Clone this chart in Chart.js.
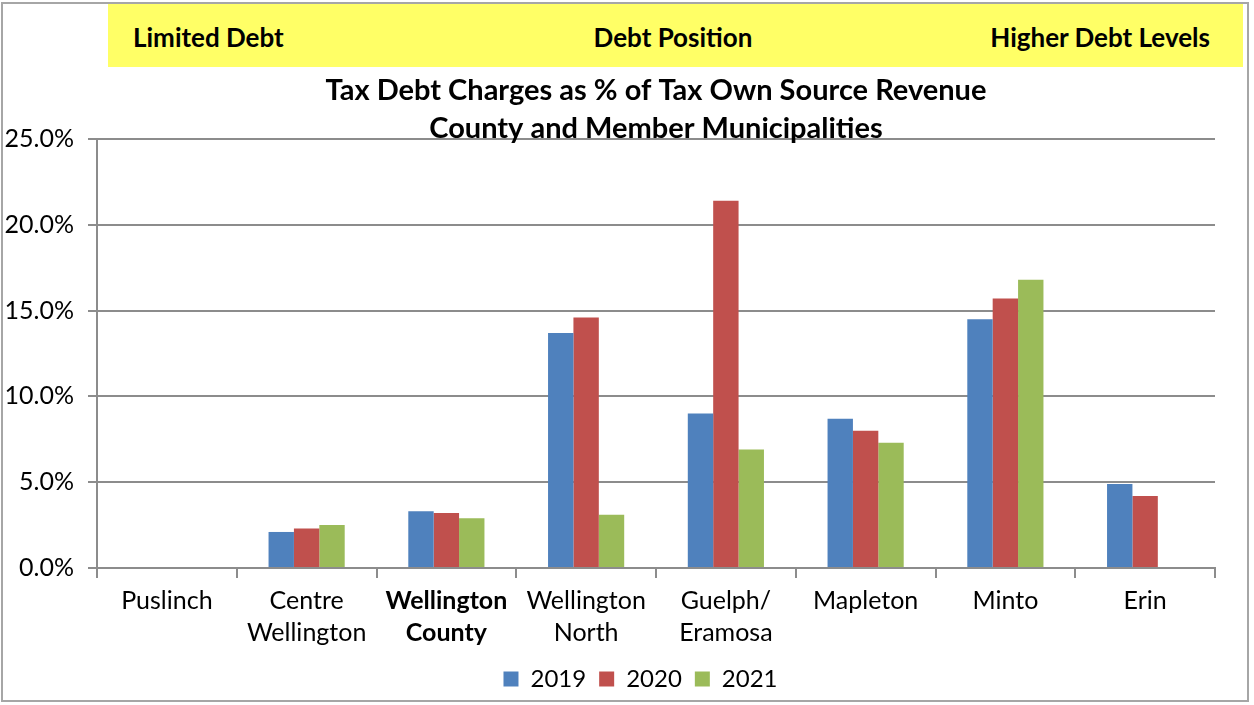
<!DOCTYPE html>
<html>
<head>
<meta charset="utf-8">
<script src="https://cdn.jsdelivr.net/npm/chart.js@4/dist/chart.umd.min.js"></script>
<style>
  html, body { margin: 0; padding: 0; background: #ffffff; }
  #wrap { position: relative; width: 1254px; height: 705px; overflow: hidden; }
  #frame { position: absolute; left: 1px; top: 2px; width: 1248px; height: 700px; border: 2px solid #a6a6a6; box-sizing: border-box; }
  #band { position: absolute; left: 108px; top: 4px; width: 1135px; height: 63px; background: #ffff66; font-family: Lato, "Open Sans", sans-serif; font-weight: bold; font-size: 26px; color: #000; }
  .bt { position: absolute; top: 2px; line-height: 63px; white-space: nowrap; }
  canvas { position: absolute; left: 0; top: 0; }
</style>
</head>
<body>
<div id="wrap">
  <div id="frame"></div>
  <div id="band">
    <div class="bt" style="left:25px">Limited Debt</div>
    <div class="bt" style="left:565px; transform:translateX(-50%);">Debt Position</div>
    <div class="bt" style="right:33px">Higher Debt Levels</div>
  </div>
  <canvas id="c" width="1254" height="705"></canvas>
</div>
<script>
const categories = [['Puslinch'], ['Centre', 'Wellington'], ['Wellington', 'County'], ['Wellington', 'North'], ['Guelph/', 'Eramosa'], ['Mapleton'], ['Minto'], ['Erin']];
const seriesNames = ['2019', '2020', '2021'];
const values2019 = [0, 2.1, 3.3, 13.7, 9.0, 8.7, 14.5, 4.9];
const values2020 = [0, 2.3, 3.2, 14.6, 21.4, 8.0, 15.7, 4.2];
const values2021 = [0, 2.5, 2.9, 3.1, 6.9, 7.3, 16.8, 0];
const titleLines = ['Tax Debt Charges as % of Tax Own Source Revenue', 'County and Member Municipalities'];
const boldCategoryIndex = 2;

const FONT = 'Lato, "Open Sans", sans-serif';
const GRID = '#8c8c8c';

const titlePlugin = {
  id: 'overlayTitle',
  afterDatasetsDraw(chart) {
    const ctx = chart.ctx;
    const a = chart.chartArea;
    const cx = (a.left + a.right) / 2;
    ctx.save();
    ctx.font = 'bold 29px ' + FONT;
    ctx.fillStyle = '#000';
    ctx.textAlign = 'center';
    ctx.textBaseline = 'middle';
    ctx.fillText(titleLines[0], cx, a.top - 48);
    ctx.fillText(titleLines[1], cx, a.top - 10);
    ctx.restore();
  }
};

// Centre the legend on the whole canvas instead of the padded layout area
const legendShift = {
  id: 'legendShift',
  afterLayout(chart) {
    const lg = chart.legend;
    if (lg) { lg.left += 33; lg.right += 33; }
  }
};

new Chart(document.getElementById('c'), {
  type: 'bar',
  data: {
    labels: categories,
    datasets: [
      { label: seriesNames[0], data: values2019, backgroundColor: '#4f81bd' },
      { label: seriesNames[1], data: values2020, backgroundColor: '#c0504d' },
      { label: seriesNames[2], data: values2021, backgroundColor: '#9bbb59' }
    ]
  },
  options: {
    responsive: false,
    animation: false,
    devicePixelRatio: 1,
    categoryPercentage: 0.545,
    barPercentage: 1.0,
    layout: { padding: { top: 139, right: 39, bottom: 4, left: 0 } },
    plugins: {
      title: { display: false },
      tooltip: { enabled: false },
      legend: {
        position: 'bottom',
        labels: {
          font: { family: FONT, size: 24 },
          color: '#000',
          boxWidth: 15,
          boxHeight: 15,
          padding: 13
        }
      }
    },
    scales: {
      x: {
        grid: { display: true, drawOnChartArea: false, drawTicks: true, tickLength: 10, color: GRID, lineWidth: 2, offset: true },
        border: { display: true, color: GRID, width: 2 },
        ticks: {
          color: '#000',
          padding: 7,
          maxRotation: 0,
          autoSkip: false,
          font: (c) => ({ family: FONT, size: 25, lineHeight: 1.28, weight: c.index === boldCategoryIndex ? 'bold' : 'normal' })
        },
        afterFit(scale) { scale.height = 86; }
      },
      y: {
        min: 0,
        max: 25,
        grid: { color: GRID, lineWidth: 2, tickLength: 9, drawTicks: true },
        border: { display: true, color: GRID, width: 2 },
        ticks: {
          stepSize: 5,
          color: '#000',
          padding: 14,
          font: { family: FONT, size: 25 },
          callback: (v) => v.toFixed(1) + '%'
        },
        afterFit(scale) { scale.width = 97; }
      }
    }
  },
  plugins: [titlePlugin, legendShift]
});
</script>
</body>
</html>
